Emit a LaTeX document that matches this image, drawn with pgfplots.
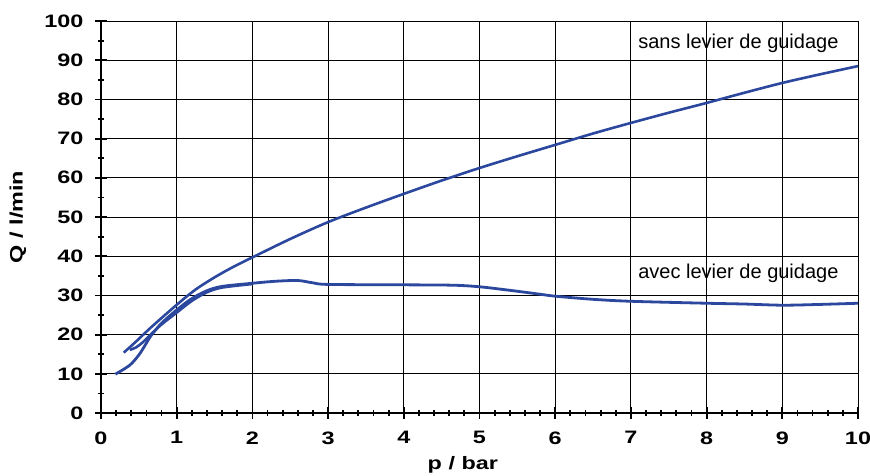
\documentclass[border=0pt]{standalone}
\usepackage{fontspec}
\setmainfont{Liberation Sans}
\newfontfamily\tickfont{Liberation Sans}[FakeStretch=1.3]
\usepackage{pgfplots}
\pgfplotsset{compat=1.18}
\definecolor{curve}{RGB}{44,72,158}
\begin{document}
\begin{tikzpicture}
\begin{axis}[
  scale only axis,
  width=757pt, height=392pt,
  xmin=0, xmax=10, ymin=0, ymax=100,
  xtick={0,...,10}, ytick={0,10,...,100},
  minor x tick num=4, minor y tick num=1,
  axis x line*=bottom, axis y line*=left,
  axis line style={line width=2.6pt, -},
  grid=major,
  major grid style={line width=0.9pt, black},
  tick align=center,
  major tick length=12pt, minor tick length=6pt,
  every tick/.style={line width=1.8pt, black},
  /pgf/number format/assume math mode=true,
  tick label style={font=\tickfont\bfseries\fontsize{18}{20}\selectfont},
  xticklabel style={yshift=-9pt},
  yticklabel style={xshift=-8pt},
  xlabel={p / bar}, ylabel={Q / l/min},
  label style={font=\tickfont\bfseries\fontsize{18}{20}\selectfont},
  xlabel style={at={(axis description cs:0.478,0)}, anchor=center, yshift=-52pt},
  ylabel style={at={(axis description cs:0,0.5)}, anchor=center, yshift=83pt},
  clip=false,
]
\coordinate (O) at (rel axis cs:0,0);
\coordinate (T) at (rel axis cs:1,1);
% sans levier de guidage
\addplot[curve, line width=2.6pt, smooth] coordinates {
(0.30,15.4)(0.45,18.0)(0.67,22.0)(1.0,27.6)(1.25,31.5)(1.5,34.6)(1.75,37.3)(2.0,39.7)(2.5,44.4)(3.0,48.7)(3.5,52.4)(4.0,55.9)(4.5,59.3)(5.0,62.5)(5.5,65.5)(6.0,68.4)(6.5,71.3)(7.0,74.0)(7.5,76.6)(8.0,79.1)(8.5,81.7)(9.0,84.2)(9.5,86.4)(10.0,88.5)
};
% avec levier de guidage
\addplot[curve, line width=2.8pt, smooth] coordinates {
(0.19,9.9)(0.38,12.2)(0.50,14.8)(0.58,17.2)(0.66,19.7)(0.80,22.9)(1.0,26.3)(1.2,29.2)(1.4,31.2)(1.6,32.3)(2.0,33.1)(2.3,33.6)(2.6,33.8)(2.8,33.2)(3.0,32.8)(4.0,32.7)(4.65,32.6)(5.0,32.2)(5.4,31.3)(5.8,30.3)(6.0,29.8)(6.5,29.0)(7.0,28.5)(8.0,28.0)(8.5,27.8)(9.0,27.5)(9.5,27.7)(10.0,28.0)
};
\addplot[curve, line width=2.6pt, smooth] coordinates {
(0.38,16.1)(0.46,16.7)(0.55,18.0)(0.65,19.9)(0.80,22.6)(1.0,25.6)(1.2,28.6)(1.4,30.8)(1.6,32.0)(2.0,32.9)
};
\node[font=\fontsize{20}{24}\selectfont] at (axis cs:8.42,94.4) {sans levier de guidage};
\node[font=\fontsize{20}{24}\selectfont] at (axis cs:8.42,35.7) {avec levier de guidage};
\end{axis}
\pgfresetboundingbox
\path ([shift={(-101pt,-62pt)}]O) rectangle ([shift={(12pt,21pt)}]T);
\end{tikzpicture}
\end{document}
